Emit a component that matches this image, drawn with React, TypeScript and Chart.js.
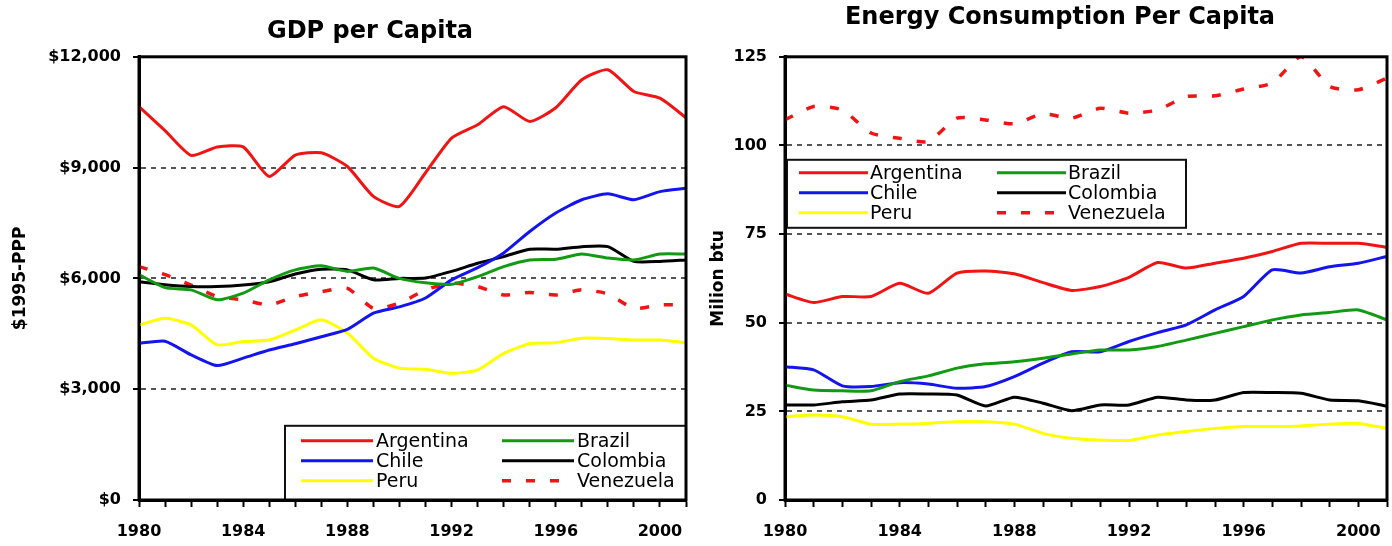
import React, { useEffect, useRef } from 'react';
import { Chart, registerables } from 'chart.js';

Chart.register(...registerables);

// ---------- data ----------
const years = [1980, 1981, 1982, 1983, 1984, 1985, 1986, 1987, 1988, 1989, 1990,
  1991, 1992, 1993, 1994, 1995, 1996, 1997, 1998, 1999, 2000, 2001];

const countries = ['Argentina', 'Brazil', 'Chile', 'Colombia', 'Peru', 'Venezuela'];

// GDP per capita, $1995-PPP
const gdpArgentina = [10650, 10000, 9330, 9560, 9560, 8760, 9340, 9400, 9030, 8220, 7950, 8860, 9800, 10160, 10650, 10250, 10620, 11380, 11650, 11060, 10880, 10350];
const gdpBrazil = [6100, 5750, 5690, 5420, 5600, 5960, 6230, 6340, 6190, 6280, 6000, 5880, 5840, 6050, 6320, 6500, 6520, 6660, 6550, 6500, 6660, 6660];
const gdpChile = [4240, 4300, 3930, 3640, 3840, 4060, 4230, 4420, 4620, 5060, 5230, 5470, 5960, 6290, 6690, 7270, 7770, 8130, 8290, 8130, 8350, 8440];
const gdpColombia = [5910, 5830, 5780, 5780, 5820, 5910, 6120, 6250, 6230, 5960, 6000, 6010, 6190, 6410, 6590, 6790, 6790, 6860, 6860, 6460, 6460, 6500];
const gdpPeru = [4740, 4920, 4740, 4200, 4290, 4330, 4600, 4880, 4520, 3840, 3570, 3540, 3430, 3520, 3970, 4230, 4260, 4380, 4370, 4330, 4330, 4260];
const gdpVenezuela = [6320, 6100, 5820, 5510, 5420, 5280, 5510, 5640, 5730, 5190, 5330, 5690, 5870, 5780, 5550, 5620, 5550, 5690, 5580, 5190, 5280, 5280];

// Energy consumption per capita, million btu
const enArgentina = [58.1, 55.7, 57.4, 57.4, 61.1, 58.3, 64.0, 64.6, 63.8, 61.3, 59.1, 60.2, 62.8, 67.0, 65.4, 66.8, 68.2, 70.1, 72.4, 72.4, 72.4, 71.3];
const enBrazil = [32.4, 31.0, 30.8, 30.8, 33.4, 35.0, 37.2, 38.4, 39.0, 40.0, 41.2, 42.3, 42.3, 43.3, 45.1, 47.0, 48.9, 50.8, 52.2, 52.9, 53.6, 50.8];
const enChile = [37.6, 36.7, 32.2, 32.0, 33.1, 32.7, 31.5, 32.0, 34.8, 38.6, 41.8, 41.8, 44.7, 47.2, 49.4, 53.6, 57.4, 64.9, 64.0, 65.8, 66.8, 68.7];
const enColombia = [26.8, 26.8, 27.7, 28.2, 29.9, 29.9, 29.6, 26.5, 29.0, 27.3, 25.2, 26.8, 26.8, 29.0, 28.2, 28.2, 30.3, 30.3, 30.1, 28.2, 28.0, 26.5];
const enPeru = [23.5, 24.0, 23.5, 21.4, 21.4, 21.6, 22.1, 22.1, 21.4, 18.8, 17.4, 16.9, 16.8, 18.3, 19.3, 20.2, 20.7, 20.7, 20.9, 21.4, 21.6, 20.2];
const enVenezuela = [107.2, 111.0, 110.0, 103.5, 102.0, 101.1, 107.7, 107.2, 106.1, 108.9, 107.7, 110.5, 109.1, 110.0, 113.8, 114.0, 115.9, 117.6, 125.1, 116.6, 115.7, 119.0];

const gdpTicks = [0, 3000, 6000, 9000, 12000];
const energyTicks = [0, 25, 50, 75, 100, 125];

// ---------- styles ----------
const seriesStyle = [
  { color: '#f01414', dash: [] as number[], width: 3 },
  { color: '#139a13', dash: [] as number[], width: 3 },
  { color: '#1414ee', dash: [] as number[], width: 3 },
  { color: '#000000', dash: [] as number[], width: 3 },
  { color: '#ffff00', dash: [] as number[], width: 3 },
  { color: '#f01414', dash: [9, 15], width: 3.5 },
];

const FONT = 'DejaVu Sans';

const boxLegendPlugin = {
  id: 'boxLegend',
  afterDatasetsDraw(chart: any, _args: any, opts: any) {
    const { ctx, chartArea: a } = chart;
    const x0 = a.left + opts.left;
    const y0 = a.top + opts.top;
    const w = opts.width > 0 ? opts.width : a.right - x0;
    const h = opts.height > 0 ? opts.height : a.bottom - y0;
    ctx.save();
    ctx.fillStyle = '#ffffff';
    ctx.fillRect(x0, y0, w, h);
    ctx.strokeStyle = '#111111';
    ctx.lineWidth = 2;
    ctx.strokeRect(x0, y0, w, h);
    ctx.font = `${opts.fontSize}px "${FONT}"`;
    ctx.textBaseline = 'middle';
    ctx.textAlign = 'left';
    chart.data.datasets.forEach((ds: any, i: number) => {
      const col = i % 2;
      const row = Math.floor(i / 2);
      const lx = x0 + opts.lineStart + col * opts.colOffset;
      const ly = y0 + opts.rowTop + row * opts.rowStep;
      ctx.beginPath();
      ctx.setLineDash(ds.borderDash || []);
      ctx.lineCap = 'butt';
      ctx.strokeStyle = ds.borderColor;
      ctx.lineWidth = ds.borderWidth;
      ctx.moveTo(lx, ly);
      ctx.lineTo(lx + opts.lineLen, ly);
      ctx.stroke();
      ctx.setLineDash([]);
      ctx.fillStyle = '#000000';
      ctx.fillText(ds.label, lx + opts.lineLen + opts.gap, ly + 1);
    });
    ctx.restore();
  },
};

const framePlugin = {
  id: 'plotFrame',
  afterDatasetsDraw(chart: any) {
    const { ctx, chartArea: a } = chart;
    ctx.save();
    ctx.strokeStyle = '#000000';
    ctx.lineWidth = 3;
    ctx.setLineDash([]);
    ctx.strokeRect(a.left, a.top, a.right - a.left, a.bottom - a.top);
    ctx.restore();
  },
};

interface ChartCfg {
  title: string;
  titlePadTop: number;
  titlePadBottom: number;
  yTitle: string;
  yTitlePad: number;
  yWidth: number;
  rightWidth: number;
  yMax: number;
  yTicks: number[];
  yFormat: (v: number) => string;
  series: number[][];
  legend: any;
}

function buildConfig(c: ChartCfg): any {
  const tickFont = { family: FONT, size: 16, weight: 'bold' as const };
  return {
    type: 'line',
    data: {
      labels: years.map(String),
      datasets: countries.map((name, i) => ({
        label: name,
        data: c.series[i],
        borderColor: seriesStyle[i].color,
        backgroundColor: seriesStyle[i].color,
        borderWidth: seriesStyle[i].width,
        borderDash: seriesStyle[i].dash,
        pointRadius: 0,
        tension: 0.2,
        fill: false,
      })),
    },
    options: {
      responsive: false,
      animation: false,
      events: [],
      layout: { padding: 0 },
      plugins: {
        legend: { display: false },
        tooltip: { enabled: false },
        title: {
          display: true,
          text: c.title,
          color: '#000000',
          font: { family: FONT, size: 24, weight: 'bold' },
          padding: { top: c.titlePadTop, bottom: c.titlePadBottom },
        },
        boxLegend: c.legend,
      },
      scales: {
        x: {
          type: 'category',
          offset: false,
          grid: {
            display: true,
            drawOnChartArea: false,
            drawTicks: true,
            tickLength: 7,
            tickWidth: 2,
            tickColor: '#000000',
          },
          border: { display: true, color: '#000000', width: 3 },
          ticks: {
            autoSkip: false,
            maxRotation: 0,
            minRotation: 0,
            padding: 15,
            color: '#000000',
            font: tickFont,
            callback: (_v: any, i: number) => (years[i] % 4 === 0 ? String(years[i]) : ''),
          },
          afterFit: (s: any) => { s.height = 46; },
        },
        y: {
          position: 'left',
          min: 0,
          max: c.yMax,
          afterBuildTicks: (s: any) => { s.ticks = c.yTicks.map((v) => ({ value: v })); },
          grid: {
            color: '#555555',
            lineWidth: 2,
            drawTicks: true,
            tickLength: 6,
            tickWidth: 2,
            tickColor: '#000000',
            tickBorderDash: [],
          },
          border: { display: true, color: '#000000', width: 3, dash: [5, 5] },
          ticks: {
            padding: 12,
            color: '#000000',
            font: tickFont,
            callback: (v: any) => c.yFormat(Number(v)),
          },
          title: {
            display: true,
            text: c.yTitle,
            color: '#000000',
            font: { family: FONT, size: 17, weight: 'bold' },
            padding: { top: c.yTitlePad, bottom: 0 },
          },
          afterFit: (s: any) => { s.width = c.yWidth; },
        },
        yPad: {
          position: 'right',
          display: true,
          grid: { display: false },
          border: { display: false },
          ticks: { display: false },
          afterFit: (s: any) => { s.width = c.rightWidth; },
        },
      },
    },
    plugins: [boxLegendPlugin, framePlugin],
  };
}

const gdpCfg: ChartCfg = {
  title: 'GDP per Capita',
  titlePadTop: 17,
  titlePadBottom: 11,
  yTitle: '$1995-PPP',
  yTitlePad: 10,
  yWidth: 139,
  rightWidth: 54,
  yMax: 12000,
  yTicks: gdpTicks,
  yFormat: (v) => '$' + v.toLocaleString('en-US'),
  series: [gdpArgentina, gdpBrazil, gdpChile, gdpColombia, gdpPeru, gdpVenezuela],
  legend: {
    left: 146, top: 369, width: 0, height: 0,
    lineStart: 16, lineLen: 72, gap: 3, colOffset: 201,
    rowTop: 15, rowStep: 20, fontSize: 19,
  },
};

const energyCfg: ChartCfg = {
  title: 'Energy Consumption Per Capita',
  titlePadTop: 3,
  titlePadBottom: 25,
  yTitle: 'Milion btu',
  yTitlePad: 8,
  yWidth: 85,
  rightWidth: 33,
  yMax: 125,
  yTicks: energyTicks,
  yFormat: (v) => String(v),
  series: [enArgentina, enBrazil, enChile, enColombia, enPeru, enVenezuela],
  legend: {
    left: 2, top: 103, width: 399, height: 68,
    lineStart: 12, lineLen: 69, gap: 2, colOffset: 198,
    rowTop: 13, rowStep: 20, fontSize: 19,
  },
};

function LineChart({ cfg, left, width }: { cfg: ChartCfg; left: number; width: number }) {
  const ref = useRef<HTMLCanvasElement | null>(null);
  useEffect(() => {
    if (!ref.current) return;
    const chart = new Chart(ref.current, buildConfig(cfg));
    return () => chart.destroy();
  }, [cfg]);
  return (
    <canvas
      ref={ref}
      width={width}
      height={546}
      style={{ position: 'absolute', left, top: 0, width, height: 546 }}
    />
  );
}

export default function App() {
  return (
    <div
      style={{
        position: 'fixed',
        left: 0,
        top: 0,
        width: 1392,
        height: 546,
        overflow: 'hidden',
        background: '#ffffff',
      }}
    >
      <LineChart cfg={gdpCfg} left={0} width={740} />
      <LineChart cfg={energyCfg} left={700} width={720} />
    </div>
  );
}
